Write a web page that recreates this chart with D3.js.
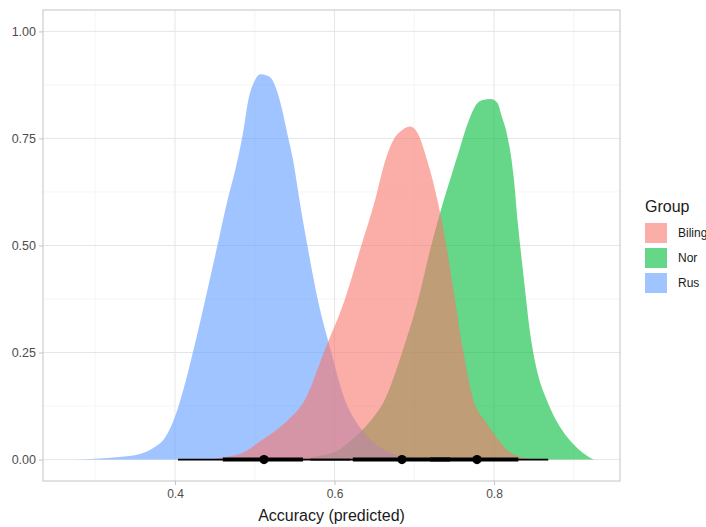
<!DOCTYPE html>
<html>
<head>
<meta charset="utf-8">
<script src="https://cdn.jsdelivr.net/npm/d3@7"></script>
<style>
  html, body { margin: 0; padding: 0; background: #fff; }
  svg { display: block; font-family: "Liberation Sans", Arial, sans-serif; }
</style>
</head>
<body>
<svg id="chart" width="706" height="527"></svg>
<script>
// ---- Data ----
const groups = ["Biling", "Nor", "Rus"];
const groupColors = ["#F8766D", "#00BA38", "#619CFF"];

const rusX = [0.275, 0.30, 0.33, 0.356, 0.375, 0.387, 0.40, 0.41, 0.425, 0.438, 0.452, 0.466, 0.476, 0.485, 0.492, 0.500, 0.507, 0.515, 0.522, 0.528, 0.534, 0.541, 0.548, 0.556, 0.567, 0.579, 0.595, 0.613, 0.630, 0.645, 0.665, 0.685, 0.72];
const rusH = [0.0, 0.002, 0.006, 0.013, 0.03, 0.05, 0.10, 0.16, 0.27, 0.374, 0.49, 0.607, 0.68, 0.76, 0.84, 0.885, 0.90, 0.897, 0.887, 0.86, 0.82, 0.76, 0.70, 0.607, 0.49, 0.374, 0.257, 0.14, 0.08, 0.047, 0.02, 0.008, 0.0];

const bilX = [0.44, 0.46, 0.485, 0.51, 0.528, 0.542, 0.563, 0.588, 0.613, 0.632, 0.651, 0.664, 0.674, 0.685, 0.695, 0.705, 0.716, 0.729, 0.741, 0.751, 0.761, 0.774, 0.789, 0.804, 0.818, 0.835, 0.86];
const bilH = [0.0, 0.005, 0.016, 0.047, 0.07, 0.093, 0.14, 0.257, 0.374, 0.49, 0.607, 0.70, 0.747, 0.77, 0.778, 0.76, 0.70, 0.607, 0.49, 0.374, 0.257, 0.14, 0.09, 0.05, 0.02, 0.005, 0.0];

const norX = [0.55, 0.57, 0.603, 0.622, 0.645, 0.663, 0.686, 0.705, 0.72, 0.733, 0.745, 0.756, 0.768, 0.778, 0.786, 0.796, 0.804, 0.81, 0.815, 0.825, 0.83, 0.837, 0.845, 0.855, 0.866, 0.885, 0.90, 0.912, 0.925];
const norH = [0.0, 0.005, 0.02, 0.047, 0.09, 0.14, 0.257, 0.374, 0.49, 0.58, 0.654, 0.72, 0.79, 0.83, 0.84, 0.842, 0.834, 0.80, 0.77, 0.654, 0.55, 0.43, 0.30, 0.20, 0.14, 0.07, 0.035, 0.015, 0.0];

// point intervals: median, 66% and 95% intervals
const medians  = [0.6846, 0.7787, 0.5116];
const lo66 = [0.623, 0.72, 0.460];
const hi66 = [0.745, 0.8305, 0.5605];
const lo95 = [0.57, 0.68, 0.4038];
const hi95 = [0.79, 0.868, 0.62];

const xTicks = [0.4, 0.6, 0.8];
const xMinor = [0.3, 0.5, 0.7, 0.9];
const yTicks = [0, 0.25, 0.5, 0.75, 1.0];
const yMinor = [0.125, 0.375, 0.625, 0.875];

// ---- Layout ----
const svg = d3.select("#chart");
const panel = { left: 43, right: 620, top: 10, bottom: 481 };

const x = d3.scaleLinear().domain([0.2345, 0.958]).range([panel.left, panel.right]);
const y = d3.scaleLinear().domain([-0.05, 1.05]).range([panel.bottom, panel.top]);

svg.append("rect").attr("x", 0).attr("y", 0).attr("width", 706).attr("height", 527).attr("fill", "#fff");

// grid
const grid = svg.append("g");
grid.selectAll(".xminor").data(xMinor).join("line")
  .attr("x1", d => x(d)).attr("x2", d => x(d)).attr("y1", panel.top).attr("y2", panel.bottom)
  .attr("stroke", "#F2F2F2").attr("stroke-width", 0.8);
grid.selectAll(".yminor").data(yMinor).join("line")
  .attr("y1", d => y(d)).attr("y2", d => y(d)).attr("x1", panel.left).attr("x2", panel.right)
  .attr("stroke", "#F2F2F2").attr("stroke-width", 0.8);
grid.selectAll(".xmajor").data(xTicks).join("line")
  .attr("x1", d => x(d)).attr("x2", d => x(d)).attr("y1", panel.top).attr("y2", panel.bottom)
  .attr("stroke", "#E6E6E6").attr("stroke-width", 1);
grid.selectAll(".ymajor").data(yTicks).join("line")
  .attr("y1", d => y(d)).attr("y2", d => y(d)).attr("x1", panel.left).attr("x2", panel.right)
  .attr("stroke", "#E6E6E6").attr("stroke-width", 1);

// densities
const area = d3.area()
  .x(d => x(d[0])).y0(y(0)).y1(d => y(d[1]))
  .curve(d3.curveMonotoneX);

const series = [
  { name: "Nor", xs: norX, hs: norH, color: groupColors[1] },
  { name: "Rus", xs: rusX, hs: rusH, color: groupColors[2] },
  { name: "Biling", xs: bilX, hs: bilH, color: groupColors[0] }
];
svg.append("g").selectAll("path").data(series).join("path")
  .attr("d", s => area(s.xs.map((v, i) => [v, s.hs[i]])))
  .attr("fill", s => s.color)
  .attr("fill-opacity", 0.6);

// intervals
const iv = svg.append("g");
groups.forEach((g, i) => {
  iv.append("line").attr("x1", x(lo95[i])).attr("x2", x(hi95[i]))
    .attr("y1", y(0)).attr("y2", y(0)).attr("stroke", "#000").attr("stroke-width", 1.8);
});
groups.forEach((g, i) => {
  iv.append("line").attr("x1", x(lo66[i])).attr("x2", x(hi66[i]))
    .attr("y1", y(0)).attr("y2", y(0)).attr("stroke", "#000").attr("stroke-width", 4);
});
groups.forEach((g, i) => {
  iv.append("circle").attr("cx", x(medians[i])).attr("cy", y(0)).attr("r", 4.6).attr("fill", "#000");
});

// panel border
svg.append("rect")
  .attr("x", panel.left).attr("y", panel.top)
  .attr("width", panel.right - panel.left).attr("height", panel.bottom - panel.top)
  .attr("fill", "none").attr("stroke", "#C4C4C4").attr("stroke-width", 1);

// axes
const xAxis = d3.axisBottom(x).tickValues(xTicks).tickFormat(d3.format(".1f")).tickSize(4).tickPadding(4);
const gx = svg.append("g").attr("transform", `translate(0,${panel.bottom})`).call(xAxis);
gx.select(".domain").remove();
gx.selectAll(".tick line").attr("stroke", "#C4C4C4");
gx.selectAll(".tick text").attr("fill", "#4D4D4D").style("font-size", "12px");

const yAxis = d3.axisLeft(y).tickValues(yTicks).tickFormat(d3.format(".2f")).tickSize(4).tickPadding(3);
const gy = svg.append("g").attr("transform", `translate(${panel.left},0)`).call(yAxis);
gy.select(".domain").remove();
gy.selectAll(".tick line").attr("stroke", "#C4C4C4");
gy.selectAll(".tick text").attr("fill", "#4D4D4D").style("font-size", "12.5px");

// x title
svg.append("text")
  .attr("x", (panel.left + panel.right) / 2).attr("y", 521)
  .attr("text-anchor", "middle")
  .attr("fill", "#1a1a1a")
  .style("font-size", "16px")
  .text("Accuracy (predicted)");

// legend
const lg = svg.append("g");
lg.append("text").attr("x", 645).attr("y", 212).attr("fill", "#1a1a1a").style("font-size", "16px").text("Group");
groups.forEach((g, i) => {
  lg.append("rect").attr("x", 645).attr("y", 223 + i * 25).attr("width", 22).attr("height", 20)
    .attr("fill", groupColors[i]).attr("fill-opacity", 0.6);
  lg.append("text").attr("x", 678).attr("y", 233 + i * 25).attr("dy", "0.35em")
    .attr("fill", "#1a1a1a").style("font-size", "12px").text(g);
});
</script>
</body>
</html>
